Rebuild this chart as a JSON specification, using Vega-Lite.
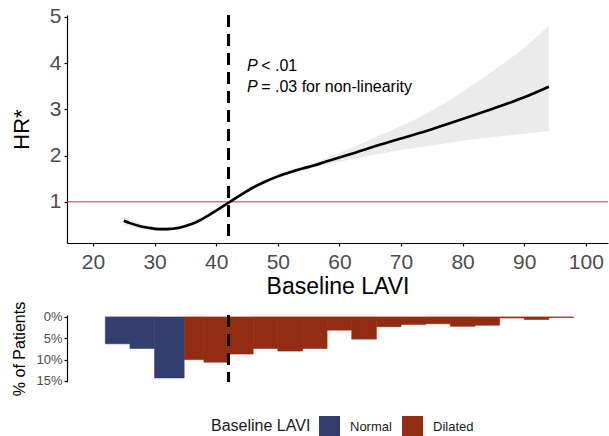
{
  "$schema": "https://vega.github.io/schema/vega-lite/v6.json",
  "background": "white",
  "padding": {"left": 10, "top": 5, "right": 0, "bottom": 0},
  "config": {
    "view": {"stroke": null},
    "font": "Liberation Sans",
    "axis": {"grid": false, "domainColor": "#000000", "tickColor": "#000000", "labelColor": "#4d4d4d", "titleColor": "#000000", "titleFontWeight": "normal", "labelFont": "Liberation Sans", "titleFont": "Liberation Sans", "domainWidth": 1.2, "tickWidth": 1.2}
  },
  "datasets": {
    "curve": [
      {"lavi": 25, "hr": 0.59, "lo": 0.50, "hi": 0.69},
      {"lavi": 26, "hr": 0.54, "lo": 0.47, "hi": 0.62},
      {"lavi": 27.5, "hr": 0.48, "lo": 0.43, "hi": 0.54},
      {"lavi": 29, "hr": 0.44, "lo": 0.40, "hi": 0.49},
      {"lavi": 30.7, "hr": 0.41, "lo": 0.37, "hi": 0.45},
      {"lavi": 32, "hr": 0.41, "lo": 0.37, "hi": 0.45},
      {"lavi": 34, "hr": 0.44, "lo": 0.40, "hi": 0.48},
      {"lavi": 36, "hr": 0.52, "lo": 0.48, "hi": 0.56},
      {"lavi": 38, "hr": 0.65, "lo": 0.61, "hi": 0.69},
      {"lavi": 40, "hr": 0.81, "lo": 0.78, "hi": 0.84},
      {"lavi": 42, "hr": 0.98, "lo": 0.95, "hi": 1.01},
      {"lavi": 44, "hr": 1.15, "lo": 1.12, "hi": 1.19},
      {"lavi": 46, "hr": 1.31, "lo": 1.27, "hi": 1.35},
      {"lavi": 48, "hr": 1.44, "lo": 1.40, "hi": 1.48},
      {"lavi": 50, "hr": 1.55, "lo": 1.51, "hi": 1.60},
      {"lavi": 52, "hr": 1.64, "lo": 1.60, "hi": 1.69},
      {"lavi": 54, "hr": 1.72, "lo": 1.67, "hi": 1.77},
      {"lavi": 56, "hr": 1.79, "lo": 1.74, "hi": 1.85},
      {"lavi": 58, "hr": 1.88, "lo": 1.81, "hi": 1.95},
      {"lavi": 60, "hr": 1.96, "lo": 1.87, "hi": 2.06},
      {"lavi": 62, "hr": 2.04, "lo": 1.92, "hi": 2.17},
      {"lavi": 65, "hr": 2.17, "lo": 2.00, "hi": 2.35},
      {"lavi": 70, "hr": 2.37, "lo": 2.12, "hi": 2.64},
      {"lavi": 75, "hr": 2.57, "lo": 2.22, "hi": 2.97},
      {"lavi": 80, "hr": 2.79, "lo": 2.32, "hi": 3.38},
      {"lavi": 85, "hr": 3.02, "lo": 2.40, "hi": 3.84},
      {"lavi": 90, "hr": 3.26, "lo": 2.47, "hi": 4.33},
      {"lavi": 94, "hr": 3.49, "lo": 2.53, "hi": 4.82}
    ],
    "notesP": [
      {"lavi": 45.0, "hr": 3.83, "t": "P"},
      {"lavi": 45.0, "hr": 3.38, "t": "P"}
    ],
    "notes": [
      {"lavi": 47.3, "hr": 3.83, "t": "< .01"},
      {"lavi": 47.3, "hr": 3.38, "t": "= .03 for non-linearity"}
    ],
    "ref": [{"hr": 1, "lavi": 42}],
    "hist": [
      {"lo": 22, "hi": 26, "pct": 6.3, "group": "Normal"},
      {"lo": 26, "hi": 30, "pct": 7.4, "group": "Normal"},
      {"lo": 30, "hi": 34.8, "pct": 14.3, "group": "Normal"},
      {"lo": 34.8, "hi": 38, "pct": 10.0, "group": "Dilated"},
      {"lo": 38, "hi": 42, "pct": 10.6, "group": "Dilated"},
      {"lo": 42, "hi": 46, "pct": 8.7, "group": "Dilated"},
      {"lo": 46, "hi": 50, "pct": 7.4, "group": "Dilated"},
      {"lo": 50, "hi": 54, "pct": 8.0, "group": "Dilated"},
      {"lo": 54, "hi": 58, "pct": 7.4, "group": "Dilated"},
      {"lo": 58, "hi": 62, "pct": 3.1, "group": "Dilated"},
      {"lo": 62, "hi": 66, "pct": 5.2, "group": "Dilated"},
      {"lo": 66, "hi": 70, "pct": 2.3, "group": "Dilated"},
      {"lo": 70, "hi": 74, "pct": 1.8, "group": "Dilated"},
      {"lo": 74, "hi": 78, "pct": 1.6, "group": "Dilated"},
      {"lo": 78, "hi": 82, "pct": 2.2, "group": "Dilated"},
      {"lo": 82, "hi": 86, "pct": 1.95, "group": "Dilated"},
      {"lo": 86, "hi": 90, "pct": 0.25, "group": "Dilated"},
      {"lo": 90, "hi": 94, "pct": 0.6, "group": "Dilated"},
      {"lo": 94, "hi": 98, "pct": 0.15, "group": "Dilated"}
    ]
  },
  "spacing": 3,
  "vconcat": [
    {
      "width": 541,
      "height": 228,
      "layer": [
        {
          "data": {"name": "curve"},
          "mark": {"type": "area", "color": "#ebebeb", "opacity": 1, "interpolate": "monotone"},
          "encoding": {
            "x": {"field": "lavi", "type": "quantitative", "scale": {"domain": [15.78, 103.6], "nice": false, "zero": false},
              "axis": {"values": [20, 30, 40, 50, 60, 70, 80, 90, 100], "title": "Baseline LAVI", "labelFontSize": 21, "titleFontSize": 23, "tickSize": 3, "labelPadding": 5, "titlePadding": 3}},
            "y": {"field": "lo", "type": "quantitative", "scale": {"domain": [0.11, 5.04], "nice": false, "zero": false},
              "axis": {"values": [1, 2, 3, 4, 5], "title": "HR*", "labelFontSize": 21, "titleFontSize": 22, "tickSize": 3, "labelPadding": 3, "titlePadding": 16}},
            "y2": {"field": "hi"}
          }
        },
        {
          "data": {"name": "ref"},
          "mark": {"type": "rule", "color": "#ad3f3d", "strokeWidth": 1},
          "encoding": {"y": {"field": "hr", "type": "quantitative"}}
        },
        {
          "data": {"name": "ref"},
          "mark": {"type": "rule", "color": "#000000", "strokeWidth": 3, "strokeDash": [12, 7]},
          "encoding": {"x": {"field": "lavi", "type": "quantitative"}}
        },
        {
          "data": {"name": "curve"},
          "mark": {"type": "line", "color": "#000000", "strokeWidth": 2.6, "interpolate": "monotone"},
          "encoding": {
            "x": {"field": "lavi", "type": "quantitative"},
            "y": {"field": "hr", "type": "quantitative"}
          }
        },
        {
          "data": {"name": "notesP"},
          "mark": {"type": "text", "align": "left", "baseline": "alphabetic", "fontSize": 16, "font": "Liberation Sans", "fontStyle": "italic", "color": "#000000"},
          "encoding": {
            "x": {"field": "lavi", "type": "quantitative"},
            "y": {"field": "hr", "type": "quantitative"},
            "text": {"field": "t"}
          }
        },
        {
          "data": {"name": "notes"},
          "mark": {"type": "text", "align": "left", "baseline": "alphabetic", "fontSize": 16, "font": "Liberation Sans", "color": "#000000"},
          "encoding": {
            "x": {"field": "lavi", "type": "quantitative"},
            "y": {"field": "hr", "type": "quantitative"},
            "text": {"field": "t"}
          }
        }
      ]
    },
    {
      "width": 541,
      "height": 67,
      "layer": [
        {
          "data": {"name": "hist"},
          "mark": {"type": "bar", "strokeWidth": 0.6},
          "encoding": {
            "x": {"field": "lo", "type": "quantitative", "scale": {"domain": [15.78, 103.6], "nice": false, "zero": false}, "axis": null},
            "x2": {"field": "hi"},
            "y": {"field": "pct", "type": "quantitative", "scale": {"domain": [-0.45, 15.25], "reverse": true, "nice": false, "zero": false},
              "axis": {"values": [0, 5, 10, 15], "labelExpr": "datum.value + '%'", "title": "% of Patients", "labelFontSize": 13, "titleFontSize": 16, "tickSize": 3, "labelPadding": 2, "titlePadding": 8}},
            "y2": {"datum": 0},
            "stroke": {"field": "group", "type": "nominal", "scale": {"domain": ["Normal", "Dilated"], "range": ["#323f6e", "#922c13"]}, "legend": null},
            "color": {"field": "group", "type": "nominal", "scale": {"domain": ["Normal", "Dilated"], "range": ["#323f6e", "#922c13"]},
              "legend": {"title": "Baseline LAVI", "orient": "none", "legendX": 144, "legendY": 401, "direction": "horizontal", "titleOrient": "left", "symbolType": "square", "symbolSize": 440, "symbolStrokeWidth": 0, "symbolOpacity": 1, "labelFontSize": 13, "titleFontSize": 16, "titleFontWeight": "normal", "titleColor": "#1a1a1a", "labelColor": "#1a1a1a", "labelOffset": 10, "columnPadding": 10, "titlePadding": 8, "titleFont": "Liberation Sans", "labelFont": "Liberation Sans"}}
          }
        },
        {
          "data": {"name": "ref"},
          "mark": {"type": "rule", "color": "#000000", "strokeWidth": 3, "strokeDash": [12, 7]},
          "encoding": {"x": {"field": "lavi", "type": "quantitative"}}
        }
      ]
    }
  ]
}
